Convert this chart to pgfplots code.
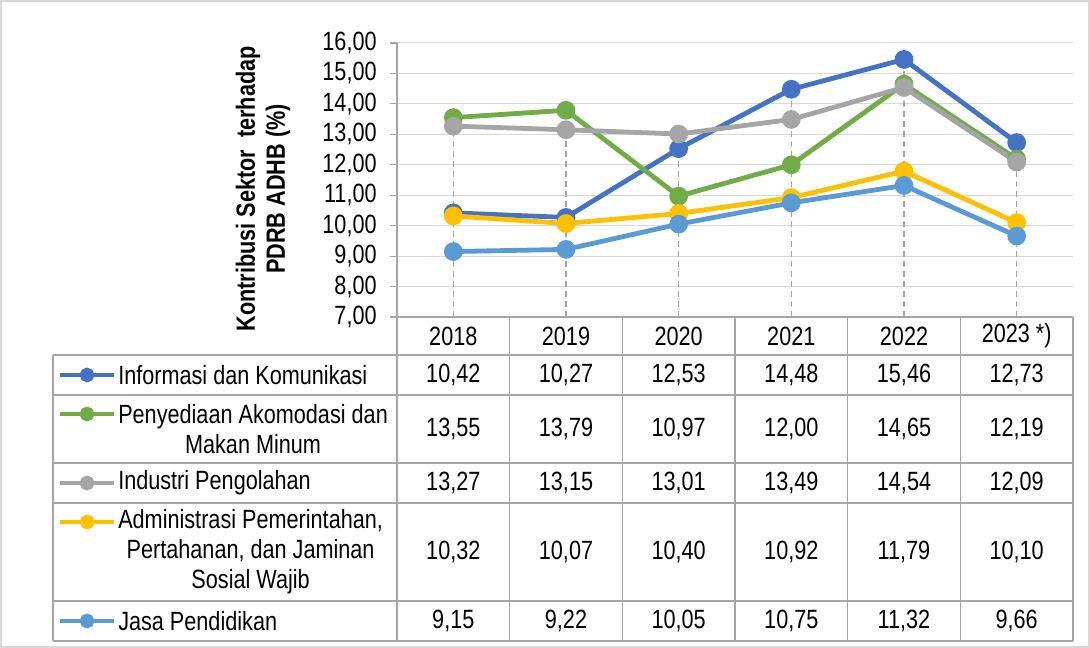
\documentclass[border=0pt]{standalone}
\usepackage{pgfplots}
\pgfplotsset{compat=1.18}
\usepackage{pgfplotstable}
\usepackage{fontspec}
\setmainfont{Liberation Sans}[FakeStretch=0.82]

\definecolor{cInfo}{HTML}{4472C4}
\definecolor{cAkom}{HTML}{70AD47}
\definecolor{cInd}{HTML}{A5A5A5}
\definecolor{cAdm}{HTML}{FFC000}
\definecolor{cPend}{HTML}{5B9BD5}
\definecolor{gridc}{HTML}{D9D9D9}
\definecolor{linec}{HTML}{A6A6A6}

% year index, one column per sector
\pgfplotstableread{
x info akom ind adm pend
0 10.42 13.55 13.27 10.32 9.15
1 10.27 13.79 13.15 10.07 9.22
2 12.53 10.97 13.01 10.40 10.05
3 14.48 12.00 13.49 10.92 10.75
4 15.46 14.65 14.54 11.79 11.32
5 12.73 12.19 12.09 10.10 9.66
}\datatable

\newcommand{\chartfont}{\fontsize{19.8}{22.5}\selectfont}

\begin{document}
\begin{tikzpicture}
\pgfplotsset{
  base/.style={
    at={(397*0.75pt,-317*0.75pt)}, anchor=south west,
    width=507pt, height=205.5pt, scale only axis,
    xmin=-0.5, xmax=5.5, ymin=7, ymax=16,
  },
  serie/.style={line width=3.6pt, mark=*, mark size=5.2pt, color=#1, mark options={fill=#1, draw=#1}},
  key/.style={line width=3pt, mark=*, mark size=4pt, color=#1, mark options={fill=#1, draw=#1}, mark indices={2}},
}
\begin{axis}[base,
  axis x line=none, axis y line*=left,
  y axis line style={linec, line width=0.9pt},
  ytick distance=1,
  tick align=outside, major tick length=5.25pt,
  ytick style={linec, line width=0.9pt},
  ymajorgrids, grid style={gridc, line width=0.75pt},
  yticklabel style={font=\chartfont, xshift=-6.5pt},
  /pgf/number format/.cd, fixed, fixed zerofill, precision=2, use comma, assume math mode=true,
]
% drop lines
\addplot[linec, line width=0.9pt, dash pattern=on 4.5pt off 3pt, unbounded coords=jump] coordinates {
  (0,7) (0,13.55) (0.5,nan)
  (1,7) (1,13.79) (1.5,nan)
  (2,7) (2,13.01) (2.5,nan)
  (3,7) (3,14.48) (3.5,nan)
  (4,7) (4,15.46) (4.5,nan)
  (5,7) (5,12.73)
};
\addplot[serie=cInfo] table[x=x, y=info] {\datatable};
\addplot[serie=cAkom] table[x=x, y=akom] {\datatable};
\addplot[serie=cInd] table[x=x, y=ind] {\datatable};
\addplot[serie=cAdm] table[x=x, y=adm] {\datatable};
\addplot[serie=cPend] table[x=x, y=pend] {\datatable};
\end{axis}

% legend keys inside the data table
\begin{axis}[base, hide axis, clip=false]
\addplot[key=cInfo] coordinates {(-3.491,5.095) (-3.251,5.095) (-3.012,5.095)};
\addplot[key=cAkom] coordinates {(-3.491,3.814) (-3.251,3.814) (-3.012,3.814)};
\addplot[key=cInd]  coordinates {(-3.491,1.547) (-3.251,1.547) (-3.012,1.547)};
\addplot[key=cAdm]  coordinates {(-3.491,0.266) (-3.251,0.266) (-3.012,0.266)};
\addplot[key=cPend] coordinates {(-3.491,-2.985) (-3.251,-2.985) (-3.012,-2.985)};
\end{axis}

\begin{scope}[x=0.75pt, y=-0.75pt]
% outer frame
\draw[gridc, line width=0.9pt] (1,1) rectangle (1089,647);
% y title
\node[rotate=90, align=center, font=\chartfont\bfseries, inner sep=0] at (263,189)
  {Kontribusi Sektor~ terhadap\\PDRB ADHB (\%)};
% data table grid
\begin{scope}[linec, line width=0.9pt]
\draw (397,317) -- (1073,317);
\foreach \yy in {355,395,463,503,601,641} \draw (53,\yy) -- (1073,\yy);
\draw (53,355) -- (53,641);
\foreach \xx in {397,509.67,622.33,735,847.67,960.33,1073} \draw (\xx,317) -- (\xx,641);
\end{scope}
\begin{scope}[every node/.style={font=\chartfont, inner sep=0}]
% header
\foreach \xx/\t in {453.3/2018,566/2019,678.7/2020,791.3/2021,904/2022,1016.7/{2023 *)}}
  \node at (\xx,336) {\t};
% labels
\node[anchor=west, align=center] at (118,375) {Informasi dan Komunikasi};
\node[anchor=west, align=center] at (118,429) {Penyediaan Akomodasi dan\\Makan Minum};
\node[anchor=west, align=center] at (118,483) {Industri Pengolahan};
\node[anchor=west, align=center] at (118,552) {Administrasi Pemerintahan,\\Pertahanan, dan Jaminan\\Sosial Wajib};
\node[anchor=west, align=center] at (118,621) {Jasa Pendidikan};
% values
\foreach \yy/\a/\b/\c/\d/\e/\f in {
  375/{10,42}/{10,27}/{12,53}/{14,48}/{15,46}/{12,73},
  429/{13,55}/{13,79}/{10,97}/{12,00}/{14,65}/{12,19},
  483/{13,27}/{13,15}/{13,01}/{13,49}/{14,54}/{12,09},
  552/{10,32}/{10,07}/{10,40}/{10,92}/{11,79}/{10,10},
  621/{9,15}/{9,22}/{10,05}/{10,75}/{11,32}/{9,66}}{
  \node at (453.3,\yy) {\a};
  \node at (566,\yy) {\b};
  \node at (678.7,\yy) {\c};
  \node at (791.3,\yy) {\d};
  \node at (904,\yy) {\e};
  \node at (1016.7,\yy) {\f};
}
\end{scope}
\end{scope}

\pgfresetboundingbox
\path (0,0) rectangle (817.5pt,-486pt);
\end{tikzpicture}
\end{document}
